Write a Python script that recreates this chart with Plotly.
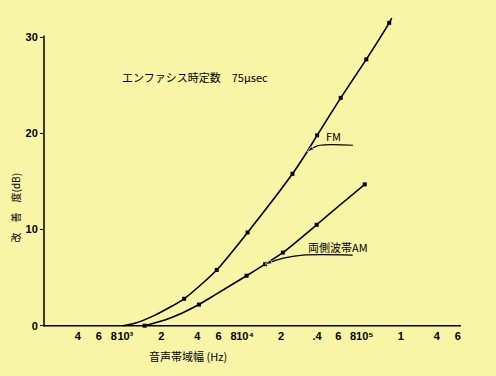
import plotly.graph_objects as go

# ---- data ----
fm_freq = [950, 1200, 1770, 3100, 5800, 10500, 24900, 33000, 40000, 63000, 103000, 160000, 168000]
fm_db = [0, 0.25, 1.1, 2.8, 5.8, 9.7, 15.8, 18.1, 19.8, 23.7, 27.7, 31.5, 32.0]
fm_dot_freq = [3100, 5800, 10500, 24900, 40000, 63000, 103000, 160000]
fm_dot_db = [2.8, 5.8, 9.7, 15.8, 19.8, 23.7, 27.7, 31.5]

am_freq = [1450, 2140, 2960, 4120, 5610, 10300, 14700, 20700, 39700, 60000, 100000]
am_db = [0, 0.6, 1.3, 2.2, 3.2, 5.2, 6.4, 7.6, 10.5, 12.4, 14.7]
am_dot_freq = [1450, 4120, 10300, 14700, 20700, 39700, 100000]
am_dot_db = [0, 2.2, 5.2, 6.4, 7.6, 10.5, 14.7]

# leader lines (from label to curve)
fm_lead_freq = [79800, 42300, 37000, 33000]
fm_lead_db = [18.77, 18.77, 18.5, 18.1]
am_lead_freq = [79300, 30300, 20900, 14700]
am_lead_db = [7.34, 7.34, 7.03, 6.4]

tick_vals = [400, 600, 800, 1000, 2000, 4000, 6000, 8000, 10000, 20000, 40000,
             60000, 80000, 100000, 200000, 400000, 600000]
tick_text = ["4", "6", "8", "10³", "2", "4", "6", "8", "10⁴", "2",
             ".4", "6", "8", "10⁵", "1", "4", "6"]
y_ticks = [0, 10, 20, 30]

BG = "#F8F5A7"
FONT = "Noto Sans CJK JP"
NUMFONT = "Liberation Sans"

fig = go.Figure()
for fx, fy in [(fm_freq, fm_db), (am_freq, am_db)]:
    fig.add_trace(go.Scatter(x=fx, y=fy, mode="lines",
                             line=dict(color="black", width=1.6, shape="spline", smoothing=0.6),
                             hoverinfo="skip", showlegend=False))
for fx, fy in [(fm_dot_freq, fm_dot_db), (am_dot_freq, am_dot_db)]:
    fig.add_trace(go.Scatter(x=fx, y=fy, mode="markers",
                             marker=dict(color="black", size=4, symbol="square"),
                             hoverinfo="skip", showlegend=False))
for fx, fy in [(fm_lead_freq, fm_lead_db), (am_lead_freq, am_lead_db)]:
    fig.add_trace(go.Scatter(x=fx, y=fy, mode="lines+markers",
                             line=dict(color="black", width=1.2, shape="spline"),
                             marker=dict(color="black", symbol="arrow", angleref="previous",
                                         size=[0] * (len(fx) - 1) + [7]),
                             hoverinfo="skip", showlegend=False))

# axis lines
fig.add_shape(type="line", xref="paper", yref="y", x0=0, x1=1, y0=0, y1=0,
              line=dict(color="black", width=1.6))
fig.add_shape(type="line", xref="paper", yref="y", x0=0, x1=0, y0=-0.1, y1=30.2,
              line=dict(color="black", width=1.5))

anns = [
    dict(text="エンファシス時定数　75μsec", xref="paper", yref="y", x=0.363, y=25.9, size=11),
    dict(text="FM", xref="x", yref="y", x=4.735, y=19.7, size=11),
    dict(text="両側波帯AM", xref="x", yref="y", x=4.777, y=8.2, size=11),
    dict(text="音声帯域幅 (Hz)", xref="paper", yref="paper", x=0.345, y=-0.088, size=11),
    dict(text="改　善　度(dB)", xref="paper", yref="y", x=-0.0695, y=12.3, size=10, textangle=-90),
]
for a in anns:
    sz = a.pop("size")
    fig.add_annotation(showarrow=False, font=dict(family=FONT, size=sz, color="black"),
                       xanchor="center", yanchor="middle", **a)

fig.update_layout(
    width=496, height=376,
    margin=dict(l=44, r=35, t=10, b=48),
    paper_bgcolor=BG, plot_bgcolor=BG,
    font=dict(family=FONT, size=11, color="black"),
    xaxis=dict(type="log", range=[2.3205, 5.804], tickvals=tick_vals, ticktext=tick_text,
               tickangle=0, showgrid=False, zeroline=False, showline=False, ticks="",
               tickfont=dict(family=NUMFONT, size=11, weight="bold")),
    yaxis=dict(range=[-0.24, 32.84], tickvals=y_ticks, showgrid=False, zeroline=False,
               showline=False, ticks="outside", ticklen=3, tickcolor="black",
               tickfont=dict(family=NUMFONT, size=11, weight="bold")),
)
fig.write_html("out.html", config={"displayModeBar": False},
               post_script="document.body.style.margin='0';document.body.style.background='%s';" % BG)
